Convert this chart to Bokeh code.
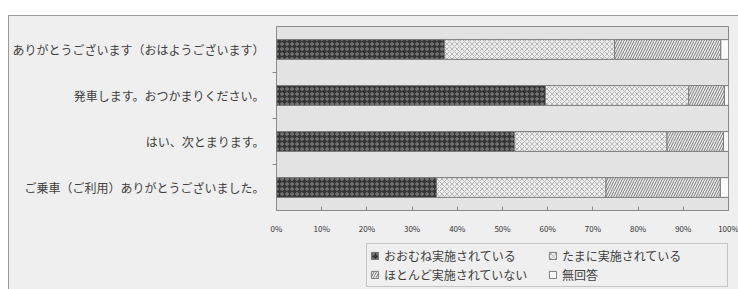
from bokeh.plotting import figure
from bokeh.layouts import column
from bokeh.models import (Range1d, LinearAxis, FixedTicker, Legend, LegendItem,
                          ColumnDataSource)
from bokeh.transform import stack
from bokeh.embed import file_html
from bokeh.resources import INLINE

# ---- data (percentages) ----
categories = [
    "ありがとうございます（おはようございます）",
    "発車します。おつかまりください。",
    "はい、次とまります。",
    "ご乗車（ご利用）ありがとうございました。",
]
series_names = ["おおむね実施されている", "たまに実施されている",
                "ほとんど実施されていない", "無回答"]
mostly = [37.2, 59.5, 52.7, 35.4]
sometimes = [37.6, 31.7, 33.7, 37.5]
rarely = [23.5, 7.9, 12.5, 25.3]
no_answer = [1.7, 0.9, 1.1, 1.8]
x_ticks = [0, 10, 20, 30, 40, 50, 60, 70, 80, 90, 100]
x_tick_labels = ["0%", "10%", "20%", "30%", "40%", "50%", "60%", "70%",
                 "80%", "90%", "100%"]

FONT = "Noto Sans CJK JP"
BG = "#efefef"
n = len(categories)
# category slots: first category at the top
ypos = [n - i - 0.5 for i in range(n)]
bounds = [i for i in range(1, n)]

keys = ["s0", "s1", "s2", "s3"]
source = ColumnDataSource(dict(y=ypos, s0=mostly, s1=sometimes,
                               s2=rarely, s3=no_answer))

chart = figure(width=730, height=226,
               y_range=Range1d(0, n), x_range=Range1d(0, 100),
               output_backend="svg", toolbar_location=None,
               x_axis_location=None, y_axis_location=None,
               min_border_left=264, min_border_right=11,
               min_border_top=10, min_border_bottom=32,
               background_fill_color="#e3e3e3", border_fill_color=BG,
               outline_line_color="#8a8a8a", outline_line_width=1)
chart.grid.visible = False

styles = [
    dict(fill_color="#353535", hatch_pattern="ring", hatch_color="#8c8c8c",
         hatch_scale=5, hatch_weight=1),
    dict(fill_color="#ececec", hatch_pattern="diagonal_cross", hatch_color="#ababab",
         hatch_scale=5, hatch_weight=0.8),
    dict(fill_color="#ececec", hatch_pattern="right_diagonal_line", hatch_color="#7a7a7a",
         hatch_scale=5, hatch_weight=1),
    dict(fill_color="#fafafa"),
]

for i, k in enumerate(keys):
    chart.hbar(y="y", left=stack(*keys[:i]), right=stack(*keys[:i + 1]),
               height=0.43, source=source, line_color="#7a7a7a", line_width=1,
               **styles[i])

# x axis
xaxis = LinearAxis(ticker=FixedTicker(ticks=x_ticks),
                   major_label_overrides={t: l for t, l in zip(x_ticks, x_tick_labels)},
                   major_tick_in=4, major_tick_out=0,
                   axis_line_color="#8a8a8a", major_tick_line_color="#8a8a8a",
                   minor_tick_line_color=None, major_label_standoff=12,
                   major_label_text_font_size="8px", major_label_text_color="#333333",
                   major_label_text_font=FONT)
chart.add_layout(xaxis, "below")

# boundary ticks between categories
tick_axis = LinearAxis(ticker=FixedTicker(ticks=bounds),
                       major_label_overrides={b: "" for b in bounds},
                       major_tick_out=4, major_tick_in=0, major_label_standoff=0,
                       axis_line_color=None, major_tick_line_color="#8a8a8a",
                       minor_tick_line_color=None, major_label_text_font_size="1px")
chart.add_layout(tick_axis, "left")

# category labels
cat_axis = LinearAxis(ticker=FixedTicker(ticks=ypos),
                      major_label_overrides={y: c for y, c in zip(ypos, categories)},
                      major_tick_out=0, major_tick_in=0, axis_line_color=None,
                      major_tick_line_color=None, minor_tick_line_color=None,
                      major_label_standoff=8,
                      major_label_text_font_size="12px",
                      major_label_text_font=FONT,
                      major_label_text_color="#404040")
chart.add_layout(cat_axis, "left")

# ---- legend strip below the chart (its frame is aligned with the chart's frame) ----
# the same bars are drawn here but the strip's y range lies outside the data,
# so only the legend swatches are visible
leg = figure(width=730, height=48, x_range=Range1d(0, 100), y_range=Range1d(10, 11),
             output_backend="svg", toolbar_location=None,
             x_axis_location=None, y_axis_location=None,
             min_border=0, background_fill_color=BG, border_fill_color=BG,
             outline_line_color=None)
leg.grid.visible = False
leg_renderers = []
for i, k in enumerate(keys):
    r = leg.hbar(y="y", left=stack(*keys[:i]), right=stack(*keys[:i + 1]),
                 height=0.43, source=source, line_color="#7a7a7a", line_width=1,
                 **styles[i])
    leg_renderers.append(r)

legend = Legend(items=[LegendItem(label=s, renderers=[r])
                       for s, r in zip(series_names, leg_renderers)],
                location=(90, 3), orientation="horizontal", ncols=2,
                border_line_color="#9a9a9a", border_line_width=1,
                background_fill_color=BG, background_fill_alpha=1,
                label_text_font=FONT, label_text_font_size="12px",
                label_text_color="#404040",
                label_height=13, label_width=162, label_standoff=5,
                glyph_height=9, glyph_width=9, padding=3, spacing=2, margin=0)
leg.add_layout(legend, "center")

p = column(chart, leg, spacing=0)
p.margin = (15, 0, 0, 8)
p.styles = {"border-left": "1.5px solid #9a9a9a", "border-top": "1.5px solid #9a9a9a",
            "background-color": BG}

open("out.html", "w").write(file_html(p, INLINE))
